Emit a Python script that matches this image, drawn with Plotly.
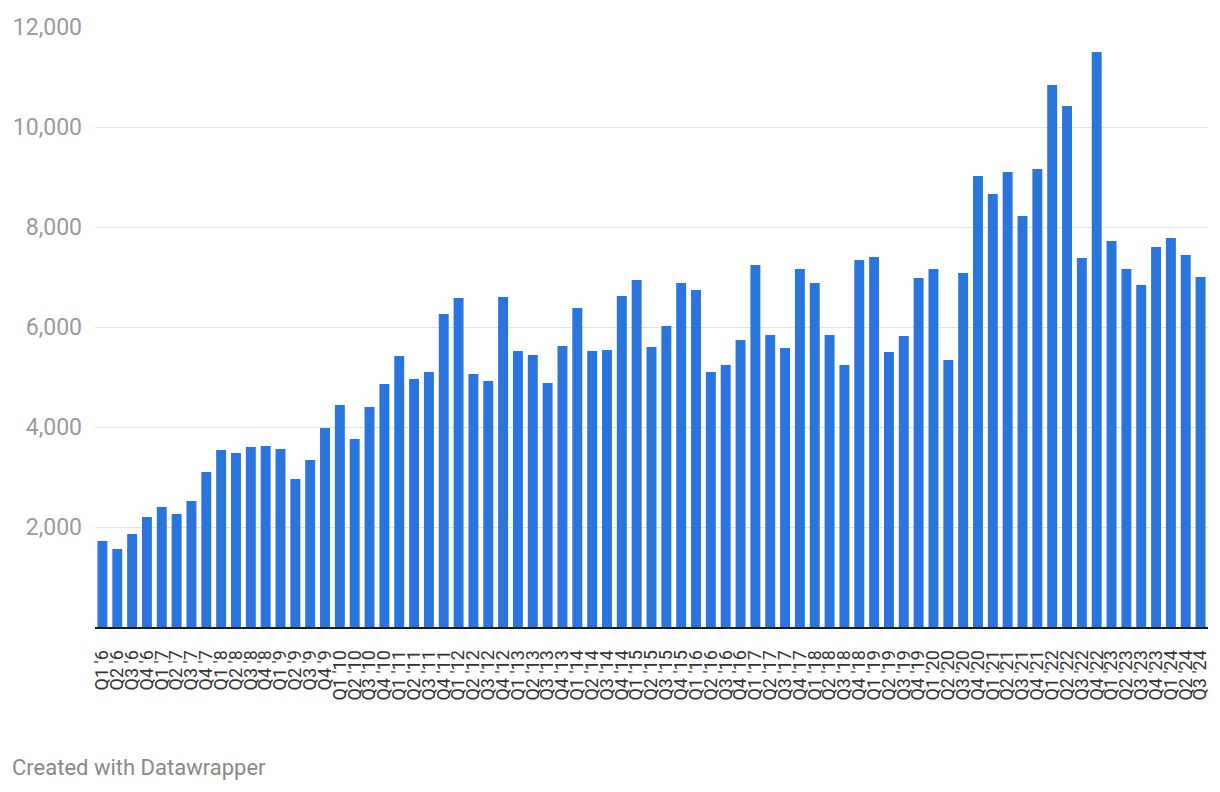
import plotly.graph_objects as go

quarters = []
for yr in range(6, 25):
    for q in range(1, 5):
        quarters.append(f"Q{q} '{yr}")
quarters = quarters[:75]

values = [1720, 1560, 1860, 2200, 2400, 2260, 2520, 3100, 3540, 3480, 3600, 3620,
          3560, 2960, 3340, 3980, 4440, 3760, 4400, 4860, 5420, 4960, 5100, 6260,
          6580, 5060, 4920, 6600, 5520, 5440, 4880, 5620, 6380, 5520, 5540, 6620,
          6940, 5600, 6020, 6880, 6740, 5100, 5240, 5740, 7240, 5840, 5580, 7160,
          6880, 5840, 5240, 7340, 7400, 5500, 5820, 6980, 7160, 5340, 7080, 9020,
          8660, 9100, 8220, 9160, 10840, 10420, 7380, 11500, 7720, 7160, 6840, 7600,
          7780, 7440, 7000]

y_ticks = [2000, 4000, 6000, 8000, 10000, 12000]
y_labels = ["2,000", "4,000", "6,000", "8,000", "10,000", "12,000"]

fig = go.Figure(go.Bar(x=quarters, y=values, marker_color="#2a75dd",
                       marker_line_width=0, hoverinfo="x+y"))

fig.update_layout(
    width=1220, height=792,
    margin=dict(l=95, r=10, t=27, b=165),
    paper_bgcolor="white", plot_bgcolor="white",
    bargap=0.33,
    font=dict(family="Roboto, sans-serif"),
    showlegend=False,
    xaxis=dict(type="category", tickmode="array", tickvals=quarters, ticktext=quarters,
               tickangle=-90, tickfont=dict(size=18, color="#333333"),
               showgrid=False, showline=True, linecolor="#1a1a1a", linewidth=2,
               ticks="", ticklabelstandoff=14),
    yaxis=dict(range=[0, 12000], tickvals=y_ticks, ticktext=y_labels,
               tickfont=dict(size=23, color="#9a9a9a"), showgrid=True,
               gridcolor="#e3e3e3", gridwidth=1, zeroline=False, ticks="",
               ticklabelstandoff=12),
    annotations=[dict(text="Created with Datawrapper", xref="paper", yref="paper",
                      x=-85/1115, y=-140/600, xanchor="left", yanchor="middle",
                      showarrow=False, font=dict(size=22, color="#888888"))],
)

fig.write_html("out.html")
